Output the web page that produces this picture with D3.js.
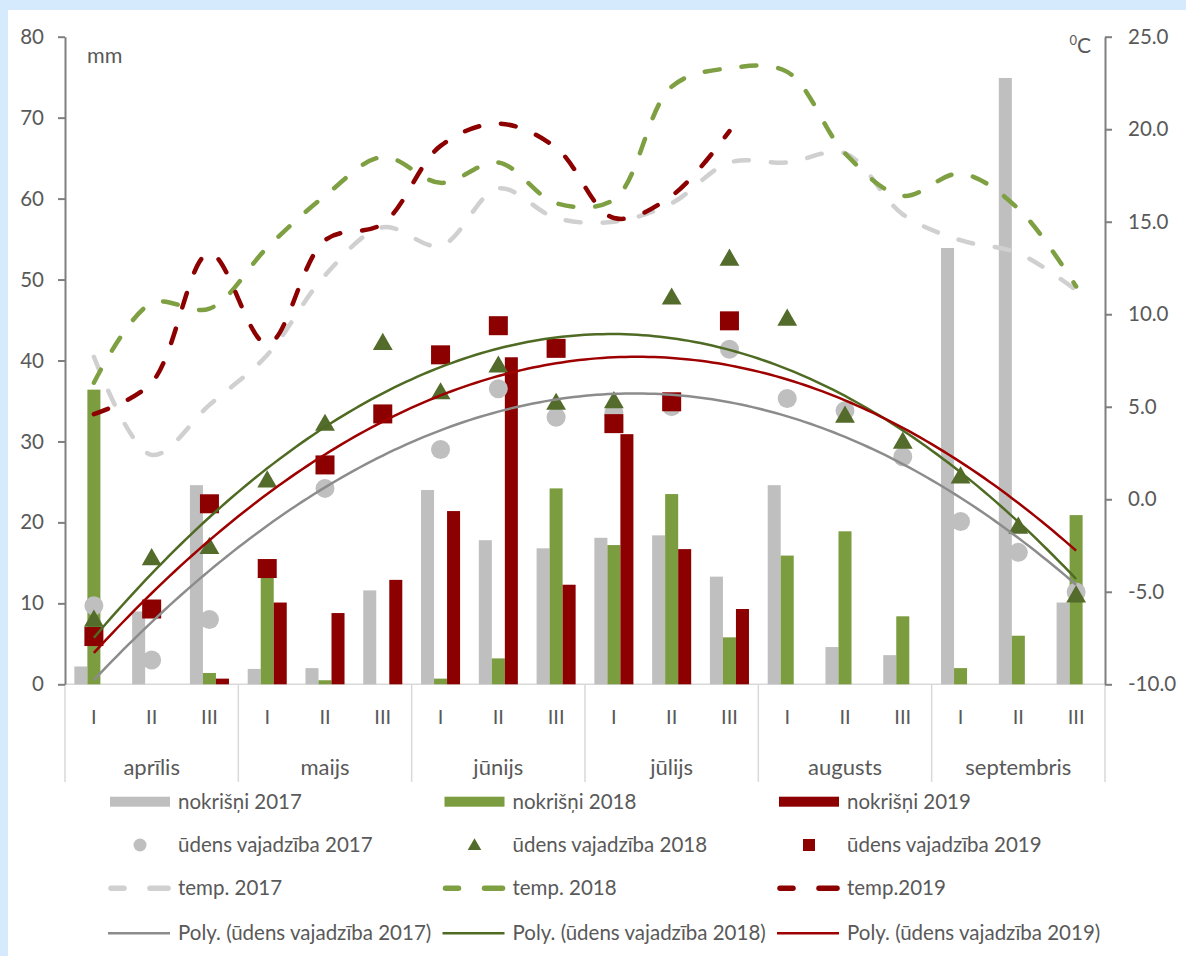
<!DOCTYPE html>
<html>
<head>
<meta charset="utf-8">
<script src="https://cdn.jsdelivr.net/npm/d3@7"></script>
<style>
body { margin: 0; background: #d6eafd; }
svg { display: block; font-family: Lato, "Open Sans", sans-serif; }
</style>
</head>
<body>
<svg id="chart" width="1186" height="956"></svg>
<script>
// dekādes un mēneši
var dekades = ["I", "II", "III"];
var months = ["aprīlis", "maijs", "jūnijs", "jūlijs", "augusts", "septembris"];

// nokrišņi, mm
var nokrisni2017 = [2.2, 9.0, 24.6, 1.9, 2.0, 11.6, 24.0, 17.8, 16.8, 18.1, 18.4, 13.3, 24.6, 4.6, 3.6, 53.9, 74.9, 10.1];
var nokrisni2018 = [36.4, 0, 1.4, 13.5, 0.5, 0, 0.7, 3.2, 24.2, 17.2, 23.5, 5.8, 15.9, 18.9, 8.4, 2.0, 6.0, 20.9];
var nokrisni2019 = [0, 0, 0.7, 10.1, 8.8, 12.9, 21.4, 40.4, 12.3, 30.9, 16.7, 9.3, null, null, null, null, null, null];

// ūdens vajadzība, mm
var vajadziba2017 = [9.7, 3.0, 8.0, null, 24.2, null, 29.0, 36.5, 33.0, 33.5, 34.3, 41.4, 35.3, 33.8, 28.1, 20.1, 16.3, 11.4];
var vajadziba2018 = [8.0, 15.6, 17.0, 25.2, 32.2, 42.2, 36.1, 39.4, 34.8, 35.0, 47.8, 52.6, 45.2, 33.2, 30.0, 25.7, 19.5, 11.0];
var vajadziba2019 = [5.9, 9.3, 22.3, 14.3, 27.1, 33.4, 40.7, 44.3, 41.5, 32.2, 34.9, 44.9, null, null, null, null, null, null];

// temperatūra, °C
var temp2017 = [7.7, 2.4, 5.1, 7.8, 12.1, 14.7, 13.7, 16.8, 15.2, 15.0, 16.0, 18.2, 18.2, 18.7, 15.4, 14.0, 13.3, 11.3];
var temp2018 = [6.3, 10.6, 10.3, 13.6, 16.4, 18.5, 17.1, 18.2, 16.0, 16.2, 22.3, 23.3, 23.1, 18.7, 16.4, 17.6, 15.7, 11.5];
var temp2019 = [4.6, 6.3, 13.3, 8.4, 14.0, 14.9, 19.1, 20.3, 19.0, 15.2, 16.4, 19.9, null, null, null, null, null, null];

var leftTicks = [0, 10, 20, 30, 40, 50, 60, 70, 80];
var rightTicks = [-10, -5, 0, 5, 10, 15, 20, 25];

var textColor = "#595959";
var svg = d3.select("#chart");

svg.append("rect").attr("x", 8).attr("y", 10).attr("width", 1178).attr("height", 946).attr("fill", "#ffffff");

var categories = d3.range(18);
var x = d3.scaleBand().domain(categories).range([65, 1105]);
var bw = x.bandwidth();
var gw = bw / 1.48;
var x1 = d3.scaleBand().domain(["2017", "2018", "2019"]).range([(bw - gw) / 2, (bw + gw) / 2]);
var yL = d3.scaleLinear().domain([0, 80]).range([684.3, 36.7]);
var yR = d3.scaleLinear().domain([-10, 25]).range([684.3, 36.7]);

function cx(i) {
    return x(i) + bw / 2;
}

// x ass
svg.append("line")
    .attr("x1", 65).attr("x2", 1105).attr("y1", yL(0)).attr("y2", yL(0))
    .attr("stroke", "#d9d9d9").attr("stroke-width", 1.5);

var monthBounds = d3.range(7).map(function (m) { return 65 + m * 3 * bw; });
svg.selectAll(".sep").data(monthBounds).enter().append("line")
    .attr("x1", function (d) { return d; }).attr("x2", function (d) { return d; })
    .attr("y1", yL(0)).attr("y2", 782)
    .attr("stroke", "#d9d9d9").attr("stroke-width", 1.5);

svg.selectAll(".dek").data(categories).enter().append("text")
    .attr("x", function (i) { return cx(i); })
    .attr("y", 724)
    .attr("text-anchor", "middle")
    .attr("font-size", 20)
    .attr("fill", textColor)
    .text(function (i) { return dekades[i % 3]; });

svg.selectAll(".month").data(months).enter().append("text")
    .attr("x", function (d, m) { return 65 + (m * 3 + 1.5) * bw; })
    .attr("y", 775)
    .attr("text-anchor", "middle")
    .attr("font-size", 22)
    .attr("fill", textColor)
    .text(function (d) { return d; });

// bāri
var barSeries = [
    {key: "2017", values: nokrisni2017, color: "#bfbfbf"},
    {key: "2018", values: nokrisni2018, color: "#7b9c3f"},
    {key: "2019", values: nokrisni2019, color: "#8c0000"}
];
barSeries.forEach(function (s) {
    svg.append("g").selectAll("rect")
        .data(s.values.map(function (v, i) { return {i: i, v: v}; }).filter(function (d) { return d.v; }))
        .enter().append("rect")
        .attr("x", function (d) { return x(d.i) + x1(s.key); })
        .attr("width", x1.bandwidth())
        .attr("y", function (d) { return yL(d.v); })
        .attr("height", function (d) { return yL(0) - yL(d.v); })
        .attr("fill", s.color);
});

// asis
var axisColor = "#7f7f7f";
var gLeft = svg.append("g").attr("transform", "translate(65,0)")
    .call(d3.axisLeft(yL).tickValues(leftTicks).tickSize(7).tickSizeOuter(0).tickPadding(14));
var gRight = svg.append("g").attr("transform", "translate(1105,0)")
    .call(d3.axisRight(yR).tickValues(rightTicks).tickSize(7).tickSizeOuter(0).tickPadding(16).tickFormat(d3.format(".1f")));
[gLeft, gRight].forEach(function (g) {
    g.select(".domain").attr("stroke", axisColor).attr("stroke-width", 2);
    g.selectAll(".tick line").attr("stroke", axisColor).attr("stroke-width", 2);
    g.selectAll(".tick text").attr("fill", textColor).attr("font-size", 20.5).attr("font-family", "Lato, sans-serif");
});
gRight.selectAll(".tick text").text(function (d) { return d3.format(".1f")(d).replace("−", "-"); });

svg.append("text").attr("x", 87).attr("y", 63).attr("font-size", 21.5).attr("fill", textColor).text("mm");
var unit = svg.append("text").attr("x", 1091).attr("y", 53).attr("text-anchor", "end").attr("fill", textColor).attr("font-size", 21);
unit.append("tspan").attr("font-size", 13).attr("dy", -8).text("0");
unit.append("tspan").attr("dy", 8).text("C");

// polinoma trendlīnija (2. pakāpe, mazāko kvadrātu metode)
function polyfit2(values) {
    var pts = values.map(function (v, i) { return [i + 1, v]; }).filter(function (p) { return p[1] != null; });
    var s = [0, 0, 0, 0, 0], t = [0, 0, 0];
    pts.forEach(function (p) {
        for (var k = 0; k < 5; k++) s[k] += Math.pow(p[0], k);
        for (var k = 0; k < 3; k++) t[k] += Math.pow(p[0], k) * p[1];
    });
    var m = [[s[0], s[1], s[2], t[0]], [s[1], s[2], s[3], t[1]], [s[2], s[3], s[4], t[2]]];
    for (var c = 0; c < 3; c++) {
        for (var r = c + 1; r < 3; r++) {
            var f = m[r][c] / m[c][c];
            for (var k = c; k < 4; k++) m[r][k] -= f * m[c][k];
        }
    }
    var b = [0, 0, 0];
    for (var r = 2; r >= 0; r--) {
        var sum = m[r][3];
        for (var k = r + 1; k < 3; k++) sum -= m[r][k] * b[k];
        b[r] = sum / m[r][r];
    }
    return function (xv) { return b[0] + b[1] * xv + b[2] * xv * xv; };
}

var polySeries = [
    {values: vajadziba2017, color: "#8c8c8c"},
    {values: vajadziba2018, color: "#4f6b23"},
    {values: vajadziba2019, color: "#9e0000"}
];
var tGrid = d3.range(1, 18.001, 0.1);
var polyLine = d3.line()
    .x(function (d) { return x(0) + bw * (d[0] - 0.5); })
    .y(function (d) { return yL(d[1]); });

// marķieri
function pts(values) {
    return values.map(function (v, i) { return {i: i, v: v}; }).filter(function (d) { return d.v != null; });
}
svg.append("g").selectAll("circle").data(pts(vajadziba2017)).enter().append("circle")
    .attr("cx", function (d) { return cx(d.i); }).attr("cy", function (d) { return yL(d.v); })
    .attr("r", 9.5).attr("fill", "#bfbfbf");
var tri = d3.symbol().type(d3.symbolTriangle).size(170);
svg.append("g").selectAll("path").data(pts(vajadziba2018)).enter().append("path")
    .attr("d", tri)
    .attr("transform", function (d) { return "translate(" + cx(d.i) + "," + (yL(d.v) + 1.5) + ")"; })
    .attr("fill", "#536b2b");
svg.append("g").selectAll("rect").data(pts(vajadziba2019)).enter().append("rect")
    .attr("x", function (d) { return cx(d.i) - 9.5; }).attr("y", function (d) { return yL(d.v) - 9.5; })
    .attr("width", 19).attr("height", 19).attr("fill", "#8c0000");

polySeries.forEach(function (s) {
    var f = polyfit2(s.values);
    svg.append("path")
        .attr("d", polyLine(tGrid.map(function (t) { return [t, f(t)]; })))
        .attr("fill", "none").attr("stroke", s.color).attr("stroke-width", 2.5);
});

// temperatūras līknes
var tempSeries = [
    {values: temp2017, color: "#d0d0d0"},
    {values: temp2018, color: "#7fa042"},
    {values: temp2019, color: "#8c0000"}
];
var tempLine = d3.line()
    .defined(function (d) { return d.v != null; })
    .x(function (d) { return cx(d.i); })
    .y(function (d) { return yR(d.v); })
    .curve(d3.curveCatmullRom.alpha(0.5));
tempSeries.forEach(function (s) {
    svg.append("path")
        .attr("d", tempLine(pts(s.values)))
        .attr("fill", "none").attr("stroke", s.color).attr("stroke-width", 4.5)
        .attr("stroke-linecap", "round").attr("stroke-dasharray", "15 22");
});

// leģenda
var legendCols = [110, 444.5, 779];
var legendRows = [801.7, 845, 888.3, 933.3];
var years = ["2017", "2018", "2019"];
var legendNames = [
    ["nokrišņi 2017", "nokrišņi 2018", "nokrišņi 2019"],
    ["ūdens vajadzība 2017", "ūdens vajadzība 2018", "ūdens vajadzība 2019"],
    ["temp. 2017", "temp. 2018", "temp.2019"],
    ["Poly. (ūdens vajadzība 2017)", "Poly. (ūdens vajadzība 2018)", "Poly. (ūdens vajadzība 2019)"]
];
years.forEach(function (yr, c) {
    var lx = legendCols[c];
    var g = svg.append("g");
    g.append("rect").attr("x", lx).attr("y", legendRows[0] - 5).attr("width", 60).attr("height", 10).attr("fill", barSeries[c].color);
    if (c === 0) {
        g.append("circle").attr("cx", lx + 30).attr("cy", legendRows[1]).attr("r", 6.5).attr("fill", "#bfbfbf");
    } else if (c === 1) {
        g.append("path").attr("d", d3.symbol().type(d3.symbolTriangle).size(80))
            .attr("transform", "translate(" + (lx + 30) + "," + (legendRows[1] + 1) + ")").attr("fill", "#536b2b");
    } else {
        g.append("rect").attr("x", lx + 24).attr("y", legendRows[1] - 6).attr("width", 12).attr("height", 12).attr("fill", "#8c0000");
    }
    g.append("line").attr("x1", lx + 1).attr("x2", lx + 14).attr("y1", legendRows[2]).attr("y2", legendRows[2])
        .attr("stroke", tempSeries[c].color).attr("stroke-width", 5.5).attr("stroke-linecap", "round");
    g.append("line").attr("x1", lx + 40).attr("x2", lx + 58).attr("y1", legendRows[2]).attr("y2", legendRows[2])
        .attr("stroke", tempSeries[c].color).attr("stroke-width", 5.5).attr("stroke-linecap", "round");
    g.append("line").attr("x1", lx - 2).attr("x2", lx + 60).attr("y1", legendRows[3]).attr("y2", legendRows[3])
        .attr("stroke", polySeries[c].color).attr("stroke-width", 2.5);
    legendRows.forEach(function (ry, r) {
        g.append("text").attr("x", lx + 68).attr("y", ry + 7)
            .attr("font-size", 20.5).attr("fill", textColor)
            .text(legendNames[r][c]);
    });
});
</script>
</body>
</html>
